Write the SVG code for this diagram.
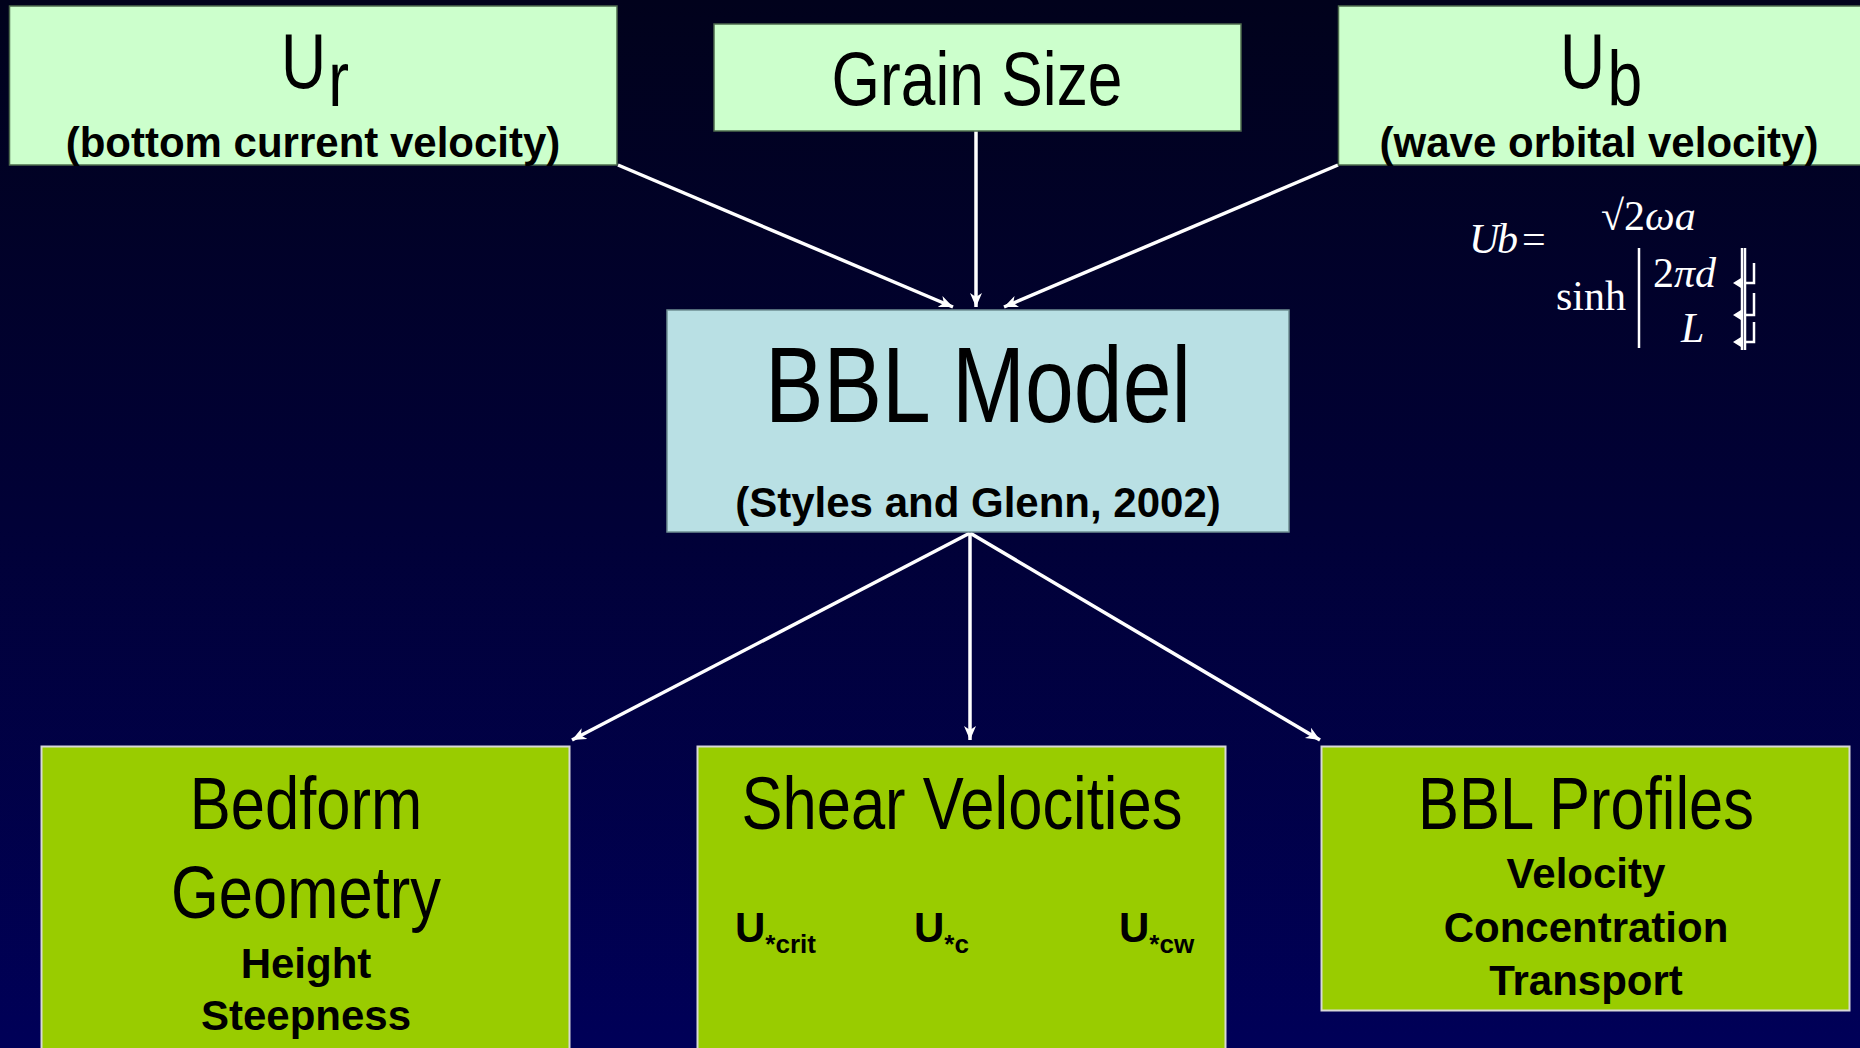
<svg xmlns="http://www.w3.org/2000/svg" width="1860" height="1048" viewBox="0 0 1860 1048">
  <defs>
    <linearGradient id="bg" x1="0" y1="0" x2="0" y2="1">
      <stop offset="0" stop-color="#01021c"/>
      <stop offset="0.5" stop-color="#010137"/>
      <stop offset="1" stop-color="#000058"/>
    </linearGradient>
    <marker id="arrow" markerUnits="userSpaceOnUse" markerWidth="16" markerHeight="14" refX="14" refY="6" orient="auto">
      <path d="M0,0 L14,6 L0,12 L4,6 Z" fill="#ffffff"/>
    </marker>
    <style>
      .input { fill: #ccffcc; stroke: #4d6b4d; stroke-width: 1.5; }
      .model { fill: #b9e0e4; stroke: #6f8f92; stroke-width: 1.5; }
      .output { fill: #99cc00; stroke: #d8d8d8; stroke-width: 2; }
      .title { font-family: "Liberation Sans", Arial, sans-serif; fill: #000; text-anchor: middle; }
      .bold { font-family: "Liberation Sans", Arial, sans-serif; font-weight: bold; fill: #000; text-anchor: middle; font-size: 42px; }
      .sub { font-family: "Liberation Sans", Arial, sans-serif; font-weight: bold; fill: #000; }
      .math { font-family: "Liberation Serif", "Times New Roman", serif; fill: #fff; font-size: 42px; }
      .conn { stroke: #fff; stroke-width: 3.5; fill: none; marker-end: url(#arrow); }
      .glyph { stroke: #fff; stroke-width: 2.5; fill: none; }
    </style>
  </defs>

  <rect x="0" y="0" width="1860" height="1048" fill="url(#bg)"/>

  <!-- connectors -->
  <g id="connectors">
    <line class="conn" x1="618" y1="165" x2="953" y2="307"/>
    <line class="conn" x1="976" y1="131" x2="976" y2="307"/>
    <line class="conn" x1="1338" y1="165" x2="1004" y2="307"/>
    <line class="conn" x1="970" y1="533" x2="572" y2="740"/>
    <line class="conn" x1="970" y1="533" x2="970" y2="740"/>
    <line class="conn" x1="970" y1="533" x2="1320" y2="740"/>
  </g>

  <!-- inputs -->
  <g id="node-ur">
    <rect class="input" x="9.5" y="6" width="607.5" height="159"/>
    <g transform="translate(315,0) scale(0.8,1)">
      <text class="title" x="0" y="88" font-size="78">U<tspan dx="3" dy="18">r</tspan></text>
    </g>
    <text class="bold" x="313" y="157">(bottom current velocity)</text>
  </g>

  <g id="node-grain">
    <rect class="input" x="714" y="24" width="527" height="107"/>
    <g transform="translate(977,0) scale(0.82,1)">
      <text class="title" x="0" y="105" font-size="76">Grain Size</text>
    </g>
  </g>

  <g id="node-ub">
    <rect class="input" x="1338.5" y="6" width="530" height="159"/>
    <g transform="translate(1601,0) scale(0.8,1)">
      <text class="title" x="0" y="88" font-size="78">U<tspan dx="3" dy="18">b</tspan></text>
    </g>
    <text class="bold" x="1599" y="157">(wave orbital velocity)</text>
  </g>

  <!-- wave orbital velocity formula -->
  <g id="formula">
    <text class="math" x="1469" y="253" font-style="italic">U</text>
    <text class="math" x="1497" y="253" font-style="italic" font-size="22">b</text>
    <text class="math" x="1522" y="253" font-size="44">=</text>
    <text class="math" x="1601" y="230" font-size="44">√2<tspan font-style="italic">ωa</tspan></text>
    <text class="math" x="1556" y="310">sinh</text>
    <line class="glyph" x1="1639" y1="248" x2="1639" y2="348"/>
    <text class="math" x="1653" y="287" font-size="44">2<tspan font-style="italic">πd</tspan></text>
    <text class="math" x="1681" y="342" font-style="italic">L</text>
    <line class="glyph" x1="1742" y1="248" x2="1742" y2="350" stroke-width="2"/>
    <line class="glyph" x1="1745" y1="248" x2="1745" y2="350" stroke-width="2"/>
    <path class="glyph" stroke-width="2" d="M1754,263 V283 H1745 M1754,293 V315 H1745 M1754,322 V342 H1745"/>
    <path fill="#fff" d="M1733,283 L1741,278 L1741,288 Z M1733,315 L1741,310 L1741,320 Z M1733,342 L1741,337 L1741,347 Z"/>
  </g>

  <!-- model -->
  <g id="node-model">
    <rect class="model" x="667" y="310" width="622" height="222"/>
    <g transform="translate(978,0) scale(0.82,1)">
      <text class="title" x="0" y="422" font-size="107">BBL Model</text>
    </g>
    <text class="bold" x="978" y="517">(Styles and Glenn, 2002)</text>
  </g>

  <!-- outputs -->
  <g id="node-bedform">
    <rect class="output" x="41.5" y="746.5" width="528" height="320"/>
    <g transform="translate(306,0) scale(0.82,1)">
      <text class="title" x="0" y="829" font-size="75">Bedform</text>
      <text class="title" x="0" y="918" font-size="75">Geometry</text>
    </g>
    <text class="bold" x="306" y="978">Height</text>
    <text class="bold" x="306" y="1030">Steepness</text>
  </g>

  <g id="node-shear">
    <rect class="output" x="697.5" y="746.5" width="528" height="320"/>
    <g transform="translate(962,0) scale(0.82,1)">
      <text class="title" x="0" y="829" font-size="75">Shear Velocities</text>
    </g>
    <text class="sub" x="735" y="942" font-size="42">U<tspan dy="11" font-size="26">*crit</tspan></text>
    <text class="sub" x="914" y="942" font-size="42">U<tspan dy="11" font-size="26">*c</tspan></text>
    <text class="sub" x="1119" y="942" font-size="42">U<tspan dy="11" font-size="26">*cw</tspan></text>
  </g>

  <g id="node-profiles">
    <rect class="output" x="1321.5" y="746.5" width="528" height="264"/>
    <g transform="translate(1586,0) scale(0.82,1)">
      <text class="title" x="0" y="829" font-size="75">BBL Profiles</text>
    </g>
    <text class="bold" x="1586" y="888">Velocity</text>
    <text class="bold" x="1586" y="942">Concentration</text>
    <text class="bold" x="1586" y="995">Transport</text>
  </g>
</svg>
